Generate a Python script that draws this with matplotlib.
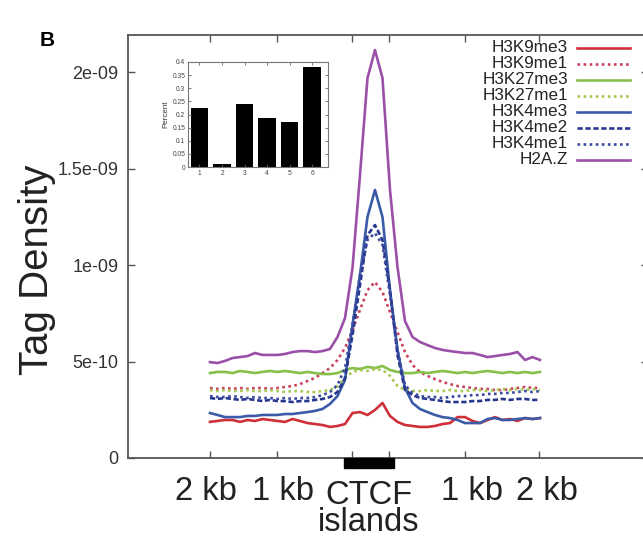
import numpy as np
import matplotlib
matplotlib.use("Agg")
import matplotlib.pyplot as plt
from matplotlib.lines import Line2D
from matplotlib.patches import Rectangle
import matplotlib.transforms as mtransforms

plt.rcParams['font.family'] = ['Liberation Sans', 'DejaVu Sans']

# ---------------- data (tag density in units of 1e-10) ----------------
series_names = ["H3K9me3", "H3K9me1", "H3K27me3", "H3K27me1",
                "H3K4me3", "H3K4me2", "H3K4me1", "H2A.Z"]

h3k9me3 = [1.87, 1.92, 1.97, 1.97, 1.87, 1.97, 1.92, 2.02, 1.97, 1.92, 1.87, 2.02, 1.92, 1.81, 1.76,
           1.71, 1.61, 1.66, 1.76, 2.33, 2.38, 2.23, 2.49, 2.85, 2.18, 1.87, 1.71, 1.66, 1.61, 1.61,
           1.66, 1.76, 1.81, 2.12, 2.12, 1.92, 1.81, 1.97, 2.12, 1.97, 2.02, 1.92, 2.07, 2.02, 2.07]
h3k9me1 = [3.63, 3.58, 3.63, 3.58, 3.63, 3.58, 3.63, 3.63, 3.58, 3.63, 3.68, 3.73, 3.83, 3.99, 4.15,
           4.40, 4.66, 5.08, 5.70, 6.63, 7.67, 8.70, 9.12, 8.60, 7.56, 6.53, 5.49, 4.82, 4.46, 4.25,
           4.09, 3.94, 3.83, 3.73, 3.68, 3.63, 3.58, 3.58, 3.52, 3.52, 3.58, 3.63, 3.68, 3.63, 3.63]
h3k27me3 = [4.40, 4.46, 4.46, 4.40, 4.51, 4.46, 4.40, 4.46, 4.51, 4.46, 4.51, 4.46, 4.40, 4.46, 4.40,
            4.35, 4.35, 4.40, 4.56, 4.66, 4.61, 4.72, 4.66, 4.77, 4.56, 4.46, 4.40, 4.40, 4.46, 4.40,
            4.46, 4.51, 4.46, 4.40, 4.46, 4.40, 4.46, 4.51, 4.46, 4.40, 4.46, 4.40, 4.46, 4.40, 4.46]
h3k27me1 = [3.52, 3.47, 3.52, 3.47, 3.47, 3.52, 3.47, 3.47, 3.52, 3.47, 3.42, 3.47, 3.47, 3.42, 3.42,
            3.47, 3.52, 3.73, 4.15, 4.46, 4.56, 4.51, 4.61, 4.56, 4.25, 3.73, 3.52, 3.47, 3.47, 3.52,
            3.47, 3.47, 3.52, 3.47, 3.47, 3.52, 3.52, 3.47, 3.52, 3.58, 3.52, 3.58, 3.52, 3.58, 3.52]
h3k4me3 = [2.33, 2.23, 2.12, 2.12, 2.12, 2.18, 2.18, 2.23, 2.23, 2.23, 2.28, 2.28, 2.33, 2.38, 2.44,
           2.54, 2.80, 3.21, 4.04, 6.89, 9.48, 12.49, 13.89, 12.49, 8.70, 5.60, 3.63, 2.85, 2.54, 2.38,
           2.23, 2.12, 2.07, 1.97, 1.81, 1.81, 1.81, 2.02, 2.07, 1.97, 1.97, 2.02, 2.07, 2.02, 2.07]
h3k4me2 = [3.11, 3.06, 3.11, 3.06, 3.01, 3.06, 3.01, 2.95, 3.01, 2.95, 2.95, 2.90, 2.95, 2.95, 3.01,
           3.06, 3.16, 3.42, 4.15, 6.37, 8.96, 11.55, 12.07, 11.30, 8.70, 5.34, 3.52, 3.26, 3.11, 3.06,
           3.01, 2.95, 2.90, 2.90, 2.90, 2.95, 2.95, 3.01, 3.01, 3.06, 3.01, 3.06, 3.06, 3.01, 3.01]
h3k4me1 = [3.21, 3.16, 3.16, 3.21, 3.16, 3.11, 3.16, 3.11, 3.11, 3.06, 3.11, 3.06, 3.11, 3.11, 3.16,
           3.26, 3.42, 3.78, 4.66, 6.89, 9.48, 11.30, 11.66, 11.04, 8.45, 5.60, 3.78, 3.37, 3.21, 3.16,
           3.16, 3.11, 3.16, 3.21, 3.21, 3.26, 3.26, 3.32, 3.32, 3.37, 3.37, 3.42, 3.47, 3.42, 3.47]
h2az = [4.97, 4.92, 5.03, 5.18, 5.23, 5.28, 5.44, 5.34, 5.34, 5.34, 5.39, 5.49, 5.54, 5.54, 5.49,
        5.54, 5.65, 6.27, 7.25, 9.84, 14.66, 19.69, 21.14, 19.69, 13.90, 9.90, 7.10, 6.27, 6.01, 5.85,
        5.70, 5.60, 5.54, 5.49, 5.44, 5.44, 5.34, 5.23, 5.28, 5.34, 5.39, 5.49, 5.08, 5.23, 5.08]

bins = np.arange(len(h2az))      # bin index along the profile

x_tick_pos = [0, 8.9, 18.9, 23.9, 34.0, 43.9]
x_label_pos = [-0.5, 9.7, 34.9, 44.9]
x_tick_labels = ["2 kb", "1 kb", "1 kb", "2 kb"]
island_span = (17.87, 24.53)
island_center = 21.2
island_label = "CTCF\nislands"

y_ticks = [0, 5e-10, 1e-9, 1.5e-9, 2e-9]
y_tick_labels = ["0", "5e-10", "1e-09", "1.5e-09", "2e-09"]

inset_cats = [1, 2, 3, 4, 5, 6]
inset_vals = [0.225, 0.01, 0.24, 0.185, 0.172, 0.38]
inset_yticks = [0, 0.05, 0.1, 0.15, 0.2, 0.25, 0.3, 0.35, 0.4]
inset_ylabels = ["0", "0.05", "0.1", "0.15", "0.2", "0.25", "0.3", "0.35", "0.4"]

# ---------------- styles ----------------
styles = [
    dict(color="#cf3038", ls="-", lw=1.9),
    dict(color="#c8405a", ls=(0, (1.0, 1.3)), lw=1.9),
    dict(color="#86c04a", ls="-", lw=1.9),
    dict(color="#a6c84e", ls=(0, (1.0, 1.3)), lw=1.9),
    dict(color="#3b5ba8", ls="-", lw=1.9),
    dict(color="#27378e", ls=(0, (2.0, 1.0)), lw=1.9),
    dict(color="#3a4aa0", ls=(0, (1.0, 1.3)), lw=1.9),
    dict(color="#9a50a8", ls="-", lw=1.9),
]
series = [h3k9me3, h3k9me1, h3k27me3, h3k27me1, h3k4me3, h3k4me2, h3k4me1, h2az]

spine_col = "#555555"
txt_col = "#333333"

fig = plt.figure(figsize=(6.43, 5.40), dpi=100)
ax = fig.add_axes([128 / 643, 82 / 540, 520 / 643, 423 / 540])

for vals, st in zip(series, styles):
    ax.plot(bins, np.array(vals) * 1e-10, **st)

ax.set_xlim(-10.93, 58.4)
ax.set_ylim(0, 2.192e-9)

ax.set_yticks(y_ticks)
ax.set_yticklabels(y_tick_labels)
ax.set_xticks(x_tick_pos)
ax.set_xticklabels([""] * len(x_tick_pos))
ax.set_xticks(x_label_pos, minor=True)
ax.set_xticklabels(x_tick_labels, minor=True)

ax.tick_params(axis="both", direction="in", top=True, right=True, length=5,
               width=1.0, color=spine_col)
ax.tick_params(axis="y", labelsize=13, labelcolor=txt_col, pad=7)
ax.tick_params(axis="x", which="minor", length=0, labelsize=23.5,
               labelcolor="#222222", pad=13)
ax.tick_params(axis="y", which="minor", left=False, right=False)
for sp in ax.spines.values():
    sp.set_color(spine_col)
    sp.set_linewidth(1.3)

# CTCF island bar and label
trans = mtransforms.blended_transform_factory(ax.transData, ax.transAxes)
ax.add_patch(Rectangle((island_span[0], -0.024), island_span[1] - island_span[0], 0.024,
                       transform=trans, clip_on=False, color="black", zorder=5))
ax.text(island_center, -0.121, island_label, transform=trans, ha="center", va="center",
        fontsize=23.5, color="#222222", linespacing=0.82, multialignment="center")

# legend (gnuplot-style, right-aligned text)
leg_text_x = 568
leg_line_x = (577, 630)
leg_y0 = 48
leg_dy = 16
for i, (name, st) in enumerate(zip(series_names, styles)):
    ypix = leg_y0 + i * leg_dy
    fy = 1 - ypix / 540
    fig.text(leg_text_x / 643, fy, name, ha="right", va="center", fontsize=12.3, color="#222222")
    fig.add_artist(Line2D([leg_line_x[0] / 643, leg_line_x[1] / 643], [fy, fy],
                          transform=fig.transFigure, **st))

# axis labels
fig.text(37 / 643, 0.5, "Tag Density", rotation=90, ha="center", va="center",
         fontsize=29, color="#222222")
fig.text(40 / 643, 1 - 40 / 540, "B", ha="left", va="center", fontsize=15,
         fontweight="bold", color="black")

# inset bar chart
axi = fig.add_axes([188 / 643, 373 / 540, 140 / 643, 105 / 540])
axi.bar(inset_cats, inset_vals, width=0.78, color="black")
axi.set_xlim(0.49, 6.7)
axi.set_ylim(0, 0.4)
axi.set_xticks(inset_cats)
axi.set_yticks(inset_yticks)
axi.set_yticklabels(inset_ylabels)
axi.tick_params(direction="in", top=True, right=True, length=2, width=0.6,
                labelsize=4.8, labelcolor="#444444", pad=2, color="#666666")
axi.set_ylabel("Percent", fontsize=5.8, color="#333333", labelpad=2)
for sp in axi.spines.values():
    sp.set_color("#777777")
    sp.set_linewidth(0.8)

fig.savefig("out.png", dpi=100)
